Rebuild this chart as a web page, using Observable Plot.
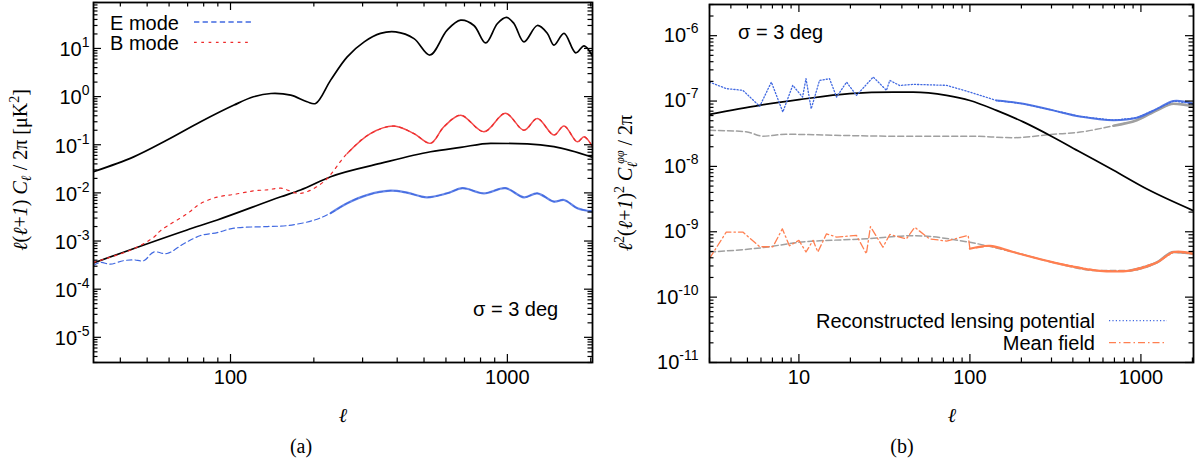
<!DOCTYPE html>
<html><head><meta charset="utf-8">
<script src="https://cdn.jsdelivr.net/npm/d3@7"></script>
<script src="https://cdn.jsdelivr.net/npm/@observablehq/plot@0.6"></script>
<style>
body{margin:0;background:#fff;}
#wrap{position:relative;width:1197px;height:463px;overflow:hidden;background:#fff;}
#wrap svg{position:absolute;}
</style></head><body><div id="wrap"></div>
<script>
// ---------- Panel (a): CMB spectra ----------
const ttEll = [32, 44.7, 59, 78, 103, 121, 140, 165, 189, 203, 230, 264, 304, 348, 395, 460, 525, 606, 678, 757, 835, 921, 994, 1056, 1148, 1283, 1395, 1473, 1602, 1766, 1893, 2030];
const ttVal = [0.0275, 0.056, 0.125, 0.30, 0.667, 0.99, 1.16, 1.07, 0.78, 0.72, 2.2, 6.7, 13.7, 20.5, 22, 16, 7.3, 24, 38.6, 30, 13, 33, 44, 33, 13.7, 30, 20.5, 11.7, 20.5, 8.1, 11.3, 6.9];
const bbEll = [32, 69.7, 89.6, 152, 179, 230, 348, 528, 678, 871, 1180, 1473, 2030];
const bbVal = [3.5e-4, 1.7e-3, 2.74e-3, 8.3e-3, 0.0115, 0.0217, 0.041, 0.0716, 0.088, 0.107, 0.104, 0.091, 0.055];
const eEll = [32, 33.9, 36.8, 41, 44.7, 48.6, 52.8, 59, 67.8, 78, 89.6, 103, 136, 161, 200, 230, 264, 311, 378, 434, 512, 606, 688, 823, 984, 1148, 1283, 1473, 1602, 1790, 2030];
const eVal = [3.1e-4, 3.6e-4, 3.3e-4, 3.9e-4, 4.06e-4, 3.9e-4, 5.9e-4, 5.5e-4, 8.8e-4, 1.3e-3, 1.5e-3, 1.85e-3, 2.0e-3, 2.1e-3, 2.7e-3, 3.8e-3, 6.1e-3, 9.0e-3, 0.0111, 0.0101, 8.1e-3, 9.8e-3, 0.0125, 9.8e-3, 0.0125, 8.1e-3, 9.8e-3, 6.6e-3, 7.1e-3, 4.8e-3, 4.1e-3];
const rEll = [32, 44.7, 52.8, 56, 69.7, 78, 89.6, 103, 121, 136, 152, 179, 217, 264, 320, 389, 460, 528, 590, 678, 823, 984, 1148, 1283, 1473, 1602, 1790, 1893, 2030];
const rVal = [3.6e-4, 6.9e-4, 1.2e-3, 1.66e-3, 3.7e-3, 6.0e-3, 8.2e-3, 9.3e-3, 0.011, 0.0116, 0.0125, 0.0098, 0.017, 0.066, 0.17, 0.244, 0.17, 0.107, 0.236, 0.41, 0.186, 0.45, 0.2, 0.35, 0.159, 0.244, 0.115, 0.147, 0.091];

// ---------- Panel (b): lensing potential ----------
const phiEll = [3, 5.9, 10, 19.8, 35.6, 46.6, 73, 100, 143, 205, 307, 441, 692, 1085, 2030];
const phiVal = [6.25e-8, 8.6e-8, 1.05e-7, 1.3e-7, 1.37e-7, 1.37e-7, 1.22e-7, 1.02e-7, 7.2e-8, 4.8e-8, 2.8e-8, 1.66e-8, 8.7e-9, 4.5e-9, 2.1e-9];
const recEll = [3, 3.76, 4.7, 5.9, 6.9, 8.05, 9.2, 10.5, 11.0, 11.8, 13.2, 15.1, 16.6, 19, 21.7, 27.2, 32.5, 34, 38.8, 46.6, 73, 100, 143, 205, 307, 441, 692, 946, 1241, 1553, 2030];
const recVal = [1.95e-7, 1.55e-7, 1.46e-7, 8.3e-8, 1.95e-7, 6.8e-8, 1.74e-7, 1.15e-7, 2.2e-7, 7.6e-8, 2.07e-7, 2.2e-7, 1.15e-7, 1.95e-7, 1.22e-7, 2.33e-7, 1.46e-7, 2.07e-7, 1.73e-7, 1.8e-7, 1.74e-7, 1.37e-7, 1.02e-7, 9.1e-8, 7.2e-8, 5.8e-8, 5.1e-8, 5.55e-8, 7.6e-8, 1.0e-7, 9.1e-8];
const gUEll = [3, 4.9, 6.15, 8.4, 15.8, 35.4, 100, 179, 307, 441, 692, 946, 1241, 1553, 2030];
const gUVal = [3.56e-8, 3.4e-8, 2.9e-8, 3.1e-8, 3.0e-8, 2.9e-8, 2.9e-8, 2.75e-8, 3.1e-8, 3.35e-8, 4.2e-8, 5.1e-8, 7.2e-8, 9.1e-8, 8.3e-8];
const gLEll = [3, 6.4, 10, 24.8, 46.6, 100, 179, 307, 552, 865, 1241, 1553, 2030];
const gLVal = [4.9e-10, 5.8e-10, 6.9e-10, 7.8e-10, 8.7e-10, 6.9e-10, 4.9e-10, 3.4e-10, 2.55e-10, 2.55e-10, 3.4e-10, 4.9e-10, 4.6e-10];
const mfEll = [3, 3.76, 4.7, 5.9, 7.05, 8.0, 8.8, 10, 11, 12.1, 12.9, 14.5, 16.6, 21.7, 24.8, 26.2, 31, 34, 42.5, 47.6, 58, 73, 97.7, 100, 131, 179, 307, 552, 865, 1241, 1553, 2030];
const mfVal = [3.9e-10, 9.9e-10, 9.9e-10, 5.9e-10, 5.9e-10, 1.11e-9, 6.1e-10, 7.4e-10, 4.9e-10, 7.4e-10, 4.9e-10, 9.3e-10, 8.3e-10, 8.8e-10, 4.6e-10, 1.2e-9, 5.8e-10, 9.1e-10, 7.8e-10, 1.17e-9, 7.8e-10, 7.2e-10, 8.8e-10, 5.5e-10, 6.1e-10, 4.9e-10, 3.4e-10, 2.55e-10, 2.55e-10, 3.4e-10, 4.9e-10, 4.6e-10];

// axis domains
const xDomA = [32, 2030], yDomA = [3e-6, 90];
const xDomB = [3, 2030], yDomB = [1e-11, 3e-6];

const BLUE = "#4169e1", RED = "#ee2a2a", ORANGE = "#ff7f50", GRAY = "#a0a0a0";
const SANS = "Liberation Sans, Arial, Helvetica, sans-serif";
const SERIF = "Liberation Serif, DejaVu Serif, serif";

const L = (e, v) => e.map((l, i) => ({l, v: v[i]}));

function decadeTicks([lo, hi]) {
  const major = [], minor = [];
  for (let e = Math.floor(Math.log10(lo)); e <= Math.ceil(Math.log10(hi)); e++) {
    for (let k = 1; k <= 9; k++) {
      const t = k * Math.pow(10, e);
      if (t < lo * 0.999 || t > hi * 1.001) continue;
      (k === 1 ? major : minor).push(t);
    }
  }
  return {major, minor};
}

function frameMarks(xd, yd, fw, fh, ydx, ydy) {
  const xt = decadeTicks(xd), yt = decadeTicks(yd);
  const s = {stroke: "black", strokeWidth: 1.2};
  const M = 8, m = 4.5;
  return [
    Plot.tickX(xt.major, {x: d => d, insetTop: fh - M, ...s}),
    Plot.tickX(xt.major, {x: d => d, insetBottom: fh - M, ...s}),
    Plot.tickX(xt.minor, {x: d => d, insetTop: fh - m, ...s}),
    Plot.tickX(xt.minor, {x: d => d, insetBottom: fh - m, ...s}),
    Plot.tickY(yt.major, {y: d => d, insetRight: fw - M, ...s}),
    Plot.tickY(yt.major, {y: d => d, insetLeft: fw - M, ...s}),
    Plot.tickY(yt.minor, {y: d => d, insetRight: fw - m, ...s}),
    Plot.tickY(yt.minor, {y: d => d, insetLeft: fw - m, ...s}),
    Plot.text(xt.major, {x: d => d, frameAnchor: "bottom", dy: 21, text: d => String(d), fontSize: 20, fill: "black"}),
    Plot.text(yt.major, {y: d => d, frameAnchor: "left", dx: ydx, dy: ydy, textAnchor: "end",
      text: d => "10^" + Math.round(Math.log10(d)), fontSize: 20, fill: "black"}),
    Plot.frame({stroke: "black", strokeWidth: 1.8})
  ];
}

function supify(svg) {
  d3.select(svg).selectAll("text").each(function() {
    const m = /^10\^(-?\d+)$/.exec(this.textContent);
    if (!m) return;
    const t = d3.select(this);
    t.text(null);
    t.append("tspan").text("10");
    t.append("tspan").attr("dy", "-9").attr("font-size", "14").text(m[1]);
  });
}

const H = 463;
// Panel (a)
const mA = {left: 93, right: 8, top: 2, bottom: 101}, WA = 600;
const fwA = WA - mA.left - mA.right, fhA = H - mA.top - mA.bottom;
const E = L(eEll, eVal), R = L(rEll, rVal);
const plotA = Plot.plot({
  width: WA, height: H,
  marginLeft: mA.left, marginRight: mA.right, marginTop: mA.top, marginBottom: mA.bottom,
  x: {type: "log", domain: xDomA, axis: null},
  y: {type: "log", domain: yDomA, axis: null},
  style: {fontFamily: SANS, background: "transparent", overflow: "visible"},
  marks: [
    Plot.line(L(ttEll, ttVal), {x: "l", y: "v", stroke: "black", strokeWidth: 1.7, curve: "catmull-rom", clip: true}),
    Plot.line(L(bbEll, bbVal), {x: "l", y: "v", stroke: "black", strokeWidth: 1.7, curve: "monotone-x", clip: true}),
    Plot.line(E, {x: "l", y: "v", stroke: BLUE, strokeWidth: 1.2, strokeDasharray: "5.3,3.3", curve: "catmull-rom", clip: true}),
    Plot.line(E.filter(d => d.l >= 230), {x: "l", y: "v", stroke: BLUE, strokeWidth: 2.2, strokeOpacity: 0.8, curve: "catmull-rom", clip: true}),
    Plot.line(R, {x: "l", y: "v", stroke: RED, strokeWidth: 1.2, strokeDasharray: "2.7,4.6", curve: "catmull-rom", clip: true}),
    Plot.line(R.filter(d => d.l >= 264), {x: "l", y: "v", stroke: RED, strokeWidth: 1.5, strokeOpacity: 0.85, curve: "catmull-rom", clip: true}),
    ...frameMarks(xDomA, yDomA, fwA, fhA, -4, 1.5)
  ]
});
supify(plotA);
plotA.style.left = "0px"; plotA.style.top = "0px";

// Panel (b)
const mB = {left: 109, right: 4, top: 4, bottom: 101}, WB = 597;
const fwB = WB - mB.left - mB.right, fhB = H - mB.top - mB.bottom;
const GU = L(gUEll, gUVal), GL = L(gLEll, gLVal), REC = L(recEll, recVal), MF = L(mfEll, mfVal);
const plotB = Plot.plot({
  width: WB, height: H,
  marginLeft: mB.left, marginRight: mB.right, marginTop: mB.top, marginBottom: mB.bottom,
  x: {type: "log", domain: xDomB, axis: null},
  y: {type: "log", domain: yDomB, axis: null},
  style: {fontFamily: SANS, background: "transparent", overflow: "visible"},
  marks: [
    Plot.line(GU, {x: "l", y: "v", stroke: GRAY, strokeWidth: 1.5, strokeDasharray: "6,3", curve: "monotone-x", clip: true}),
    Plot.line(GU.filter(d => d.l >= 600), {x: "l", y: "v", stroke: GRAY, strokeWidth: 2.6, curve: "monotone-x", clip: true}),
    Plot.line(GL, {x: "l", y: "v", stroke: GRAY, strokeWidth: 1.5, strokeDasharray: "6,3", curve: "monotone-x", clip: true}),
    Plot.line(GL.filter(d => d.l >= 600), {x: "l", y: "v", stroke: GRAY, strokeWidth: 2.6, curve: "monotone-x", clip: true}),
    Plot.line(L(phiEll, phiVal), {x: "l", y: "v", stroke: "black", strokeWidth: 1.7, curve: "monotone-x", clip: true}),
    Plot.line(REC, {x: "l", y: "v", stroke: BLUE, strokeWidth: 1.3, strokeDasharray: "1.2,2", clip: true}),
    Plot.line(REC.filter(d => d.l >= 143), {x: "l", y: "v", stroke: BLUE, strokeWidth: 2, strokeOpacity: 0.9, curve: "catmull-rom", clip: true}),
    Plot.line(MF, {x: "l", y: "v", stroke: ORANGE, strokeWidth: 1.3, strokeDasharray: "7,3,1.5,3", clip: true}),
    Plot.line(MF.filter(d => d.l >= 100), {x: "l", y: "v", stroke: ORANGE, strokeWidth: 2.2, curve: "catmull-rom", clip: true}),
    ...frameMarks(xDomB, yDomB, fwB, fhB, -11, 0)
  ]
});
supify(plotB);
plotB.style.left = "600px"; plotB.style.top = "0px";

const wrap = document.getElementById("wrap");
wrap.appendChild(plotA);
wrap.appendChild(plotB);

// Annotations, legends, axis titles and captions
const ov = `
<svg width="1197" height="463" style="left:0;top:0" font-family="${SANS}" font-size="20" fill="black">
  <text x="110" y="23" dy="0.35em">E mode</text>
  <line x1="194" x2="254" y1="22" y2="22" stroke="${BLUE}" stroke-width="1.3" stroke-dasharray="5.3,3.3"/>
  <text x="110" y="43" dy="0.35em">B mode</text>
  <line x1="194" x2="252" y1="42.3" y2="42.3" stroke="${RED}" stroke-width="1.3" stroke-dasharray="2.7,4.6"/>
  <text x="473" y="309" dy="0.35em">σ = 3 deg</text>
  <text x="738" y="32" dy="0.35em">σ = 3 deg</text>
  <text x="1095" y="321" dy="0.35em" text-anchor="end">Reconstructed lensing potential</text>
  <line x1="1109" x2="1167" y1="320.7" y2="320.7" stroke="${BLUE}" stroke-width="1.3" stroke-dasharray="1.2,2.2"/>
  <text x="1095" y="343" dy="0.35em" text-anchor="end">Mean field</text>
  <line x1="1109" x2="1167" y1="342.7" y2="342.7" stroke="${ORANGE}" stroke-width="1.3" stroke-dasharray="7,3,1.5,3"/>
  <g font-family="${SERIF}" font-size="20">
    <text x="343" y="415" dy="0.35em" text-anchor="middle" font-style="italic">ℓ</text>
    <text x="952" y="415" dy="0.35em" text-anchor="middle" font-style="italic">ℓ</text>
    <text x="301" y="446" dy="0.33em" text-anchor="middle">(a)</text>
    <text x="902" y="446" dy="0.33em" text-anchor="middle">(b)</text>
    <text transform="translate(27,170) rotate(-90)" text-anchor="middle"><tspan font-style="italic">ℓ</tspan>(<tspan font-style="italic">ℓ</tspan>+<tspan font-style="italic">1</tspan>) <tspan font-style="italic">C</tspan><tspan font-style="italic" font-size="14" dy="4">ℓ</tspan><tspan dy="-4"> / 2π [μK</tspan><tspan font-size="14" dy="-8">2</tspan><tspan dy="8">]</tspan></text>
    <text transform="translate(632,183) rotate(-90)" text-anchor="middle"><tspan font-style="italic">ℓ</tspan><tspan font-size="14" dy="-8">2</tspan><tspan dy="8">(</tspan><tspan font-style="italic">ℓ</tspan>+<tspan font-style="italic">1</tspan>)<tspan font-size="14" dy="-8">2</tspan><tspan dy="8"> </tspan><tspan font-style="italic">C</tspan><tspan font-style="italic" font-size="14" dy="5">ℓ</tspan><tspan font-style="italic" font-size="12" dx="-2" dy="-13">φφ</tspan><tspan dy="8"> / 2π</tspan></text>
  </g>
</svg>`;
wrap.insertAdjacentHTML("beforeend", ov);
</script>
</body></html>
